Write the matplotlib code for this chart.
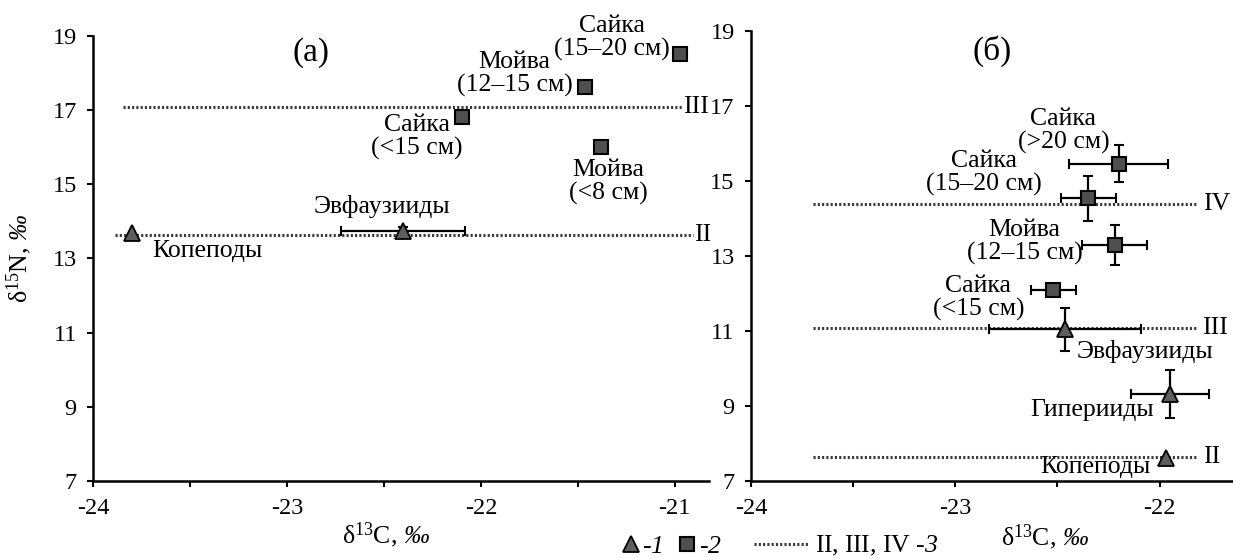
import matplotlib
matplotlib.use('Agg')
import matplotlib.pyplot as plt
from matplotlib.lines import Line2D
from matplotlib.ticker import MultipleLocator
import numpy as np

plt.rcParams['font.family'] = ['Liberation Serif', 'DejaVu Serif']
plt.rcParams['mathtext.fontset'] = 'custom'
plt.rcParams['mathtext.rm'] = 'Liberation Serif'
plt.rcParams['mathtext.it'] = 'Liberation Serif:italic'
plt.rcParams['mathtext.bf'] = 'Liberation Serif:bold'
# sf используется как курсив для цифр и ‰ (it в mathtext делает их прямыми)
plt.rcParams['mathtext.sf'] = 'Liberation Serif:italic'
plt.rcParams['axes.unicode_minus'] = False

# ---- панель (а) ----
a_names = ['Копеподы', 'Эвфаузииды', 'Сайка\n(<15 см)', 'Мойва\n(12–15 см)',
           'Мойва\n(<8 см)', 'Сайка\n(15–20 см)']
a_c13 = [-23.80, -22.40, -22.10, -21.46, -21.38, -20.97]
a_n15 = [13.68, 13.75, 16.80, 17.63, 16.00, 18.52]
a_group = [1, 1, 2, 2, 2, 2]
a_c13_err = [0, 0.32, 0, 0, 0, 0]
a_n15_err = [0, 0.10, 0, 0, 0, 0]
a_levels = ['II', 'III']
a_level_n15 = [13.64, 17.09]
a_level_from = [-23.89, -23.85]
a_level_to = [-20.905, -20.96]

# ---- панель (б) ----
b_names = ['Сайка\n(>20 см)', 'Сайка\n(15–20 см)', 'Мойва\n(12–15 см)',
           'Сайка\n(<15 см)', 'Эвфаузииды', 'Гиперииды', 'Копеподы']
b_c13 = [-22.20, -22.35, -22.22, -22.52, -22.465, -21.95, -21.97]
b_n15 = [15.46, 14.53, 13.29, 12.08, 11.04, 9.31, 7.62]
b_group = [2, 2, 2, 2, 1, 1, 1]
b_c13_err = [0.243, 0.135, 0.16, 0.11, 0.372, 0.191, 0]
b_n15_err = [0.485, 0.60, 0.535, 0, 0.565, 0.635, 0]
b_levels = ['II', 'III', 'IV']
b_level_n15 = [7.64, 11.07, 14.38]
b_level_from = [-23.70, -23.70, -23.70]
b_level_to = [-21.81, -21.817, -21.81]

yticks = [7, 9, 11, 13, 15, 17, 19]

# расположение подписей (смещение в пунктах)
a_label_offsets = [(14.6, -13.2), (-15.2, 17.4), (-32.3, -14.1), (-51.1, 9.1),
                   (5.4, -25.3), (-49.0, 11.5)]
a_label_ha = ['left', 'center', 'center', 'center', 'center', 'center']
b_label_offsets = [(-39.8, 23.3), (-75.3, 18.5), (-64.9, 2.1), (-54.0, -5.6),
                   (8.9, -15.6), (-55.6, -11.0), (-50.3, -6.8)]
b_label_ha = ['center', 'center', 'center', 'center', 'left', 'center', 'center']

TRI_COLOR = '#5e5e5e'
SQ_COLOR = '#4f4f4f'
LEVEL_COLOR = '#3a3a3a'
LEVEL_STYLE = (0, (0.7, 0.7))
FS = 18.5


def draw_panel(ax, c13, n15, group, c_err, n_err, names, offsets, has,
               levels, lev_n, lev_from, lev_to, lev_pad, xmax):
    c13 = np.array(c13)
    n15 = np.array(n15)
    group = np.array(group)
    c_err = np.array(c_err)
    n_err = np.array(n_err)

    # трофические уровни
    for name, y, x0, x1 in zip(levels, lev_n, lev_from, lev_to):
        ax.plot([x0, x1], [y, y], color=LEVEL_COLOR, lw=2.2,
                linestyle=LEVEL_STYLE, zorder=1)
        ax.annotate(name, (x1, y), xytext=(lev_pad, 0), textcoords='offset points',
                    ha='left', va='center', fontsize=FS)

    # погрешности
    m = c_err > 0
    if m.any():
        ax.errorbar(c13[m], n15[m], xerr=c_err[m], fmt='none', ecolor='black',
                    elinewidth=1.6, capsize=3.3, capthick=1.5, zorder=2)
    m = n_err > 0
    if m.any():
        ax.errorbar(c13[m], n15[m], yerr=n_err[m], fmt='none', ecolor='black',
                    elinewidth=1.6, capsize=3.3, capthick=1.5, zorder=2)

    m = group == 1
    ax.plot(c13[m], n15[m], ls='none', marker='^', ms=12, mfc=TRI_COLOR,
            mec='black', mew=1.3, zorder=3)
    m = group == 2
    ax.plot(c13[m], n15[m], ls='none', marker='s', ms=10, mfc=SQ_COLOR,
            mec='black', mew=1.5, zorder=3)

    for name, x, y, off, ha in zip(names, c13, n15, offsets, has):
        ax.annotate(name, (x, y), xytext=off, textcoords='offset points',
                    ha=ha, va='center', fontsize=FS, multialignment='center',
                    linespacing=1.05)

    ax.set_xlim(-24, xmax)
    ax.set_ylim(7, 19)
    ax.xaxis.set_major_locator(MultipleLocator(1))
    ax.xaxis.set_minor_locator(MultipleLocator(0.5))
    ax.set_yticks(yticks)
    ax.tick_params(which='both', direction='out', length=4.5, width=1.5,
                   labelsize=17.5)
    ax.tick_params(axis='x', which='both', pad=8)
    ax.tick_params(axis='y', pad=7.5)
    ax.spines['top'].set_visible(False)
    ax.spines['right'].set_visible(False)
    ax.spines['left'].set_linewidth(1.8)
    ax.spines['bottom'].set_linewidth(1.8)
    ax.set_xlabel('δ$^{13}$C, $\\mathsf{‰}$', fontsize=FS)


fig = plt.figure(figsize=(12.33, 5.58), dpi=100)
ax1 = fig.add_axes([0.0758, 0.138, 0.4996, 0.798])
ax2 = fig.add_axes([0.6094, 0.138, 0.3906, 0.807])

draw_panel(ax1, a_c13, a_n15, a_group, a_c13_err, a_n15_err, a_names,
           a_label_offsets, a_label_ha, a_levels, a_level_n15, a_level_from,
           a_level_to, 0.5, -20.82)
draw_panel(ax2, b_c13, b_n15, b_group, b_c13_err, b_n15_err, b_names,
           b_label_offsets, b_label_ha, b_levels, b_level_n15, b_level_from,
           b_level_to, 3.5, -21.64)

ax1.set_ylabel('δ$^{15}$N, $\\mathsf{‰}$', fontsize=FS)
ax1.yaxis.set_label_coords(-0.097, 0.5)
ax1.xaxis.set_label_coords(0.475, -0.088)
ax2.xaxis.set_label_coords(0.61, -0.093)

ax1.text(0.353, 0.962, '(a)', transform=ax1.transAxes, fontsize=24,
         ha='center', va='center')
ax2.text(0.499, 0.955, '(б)', transform=ax2.transAxes, fontsize=24,
         ha='center', va='center')

# легенда
tri = Line2D([], [], ls='none', marker='^', ms=12, mfc=TRI_COLOR, mec='black', mew=1.3)
sq = Line2D([], [], ls='none', marker='s', ms=10, mfc=SQ_COLOR, mec='black', mew=1.5)
lvl = Line2D([], [], color=LEVEL_COLOR, lw=2.2, linestyle=LEVEL_STYLE)
fig.legend(handles=[tri, sq], labels=['-$\\mathsf{1}$', '-$\\mathsf{2}$'], ncol=2,
           loc='center', bbox_to_anchor=(671 / 1233, 0.021), frameon=False,
           fontsize=FS, handlelength=0.8, handletextpad=0.05, columnspacing=0.55,
           borderpad=0, borderaxespad=0)
fig.legend(handles=[lvl], labels=['II, III, IV -$\\mathsf{3}$'], loc='center',
           bbox_to_anchor=(846 / 1233, 0.021), frameon=False, fontsize=FS,
           handlelength=2.1, handletextpad=0.25, borderpad=0, borderaxespad=0)

fig.savefig('out.png', dpi=100)
